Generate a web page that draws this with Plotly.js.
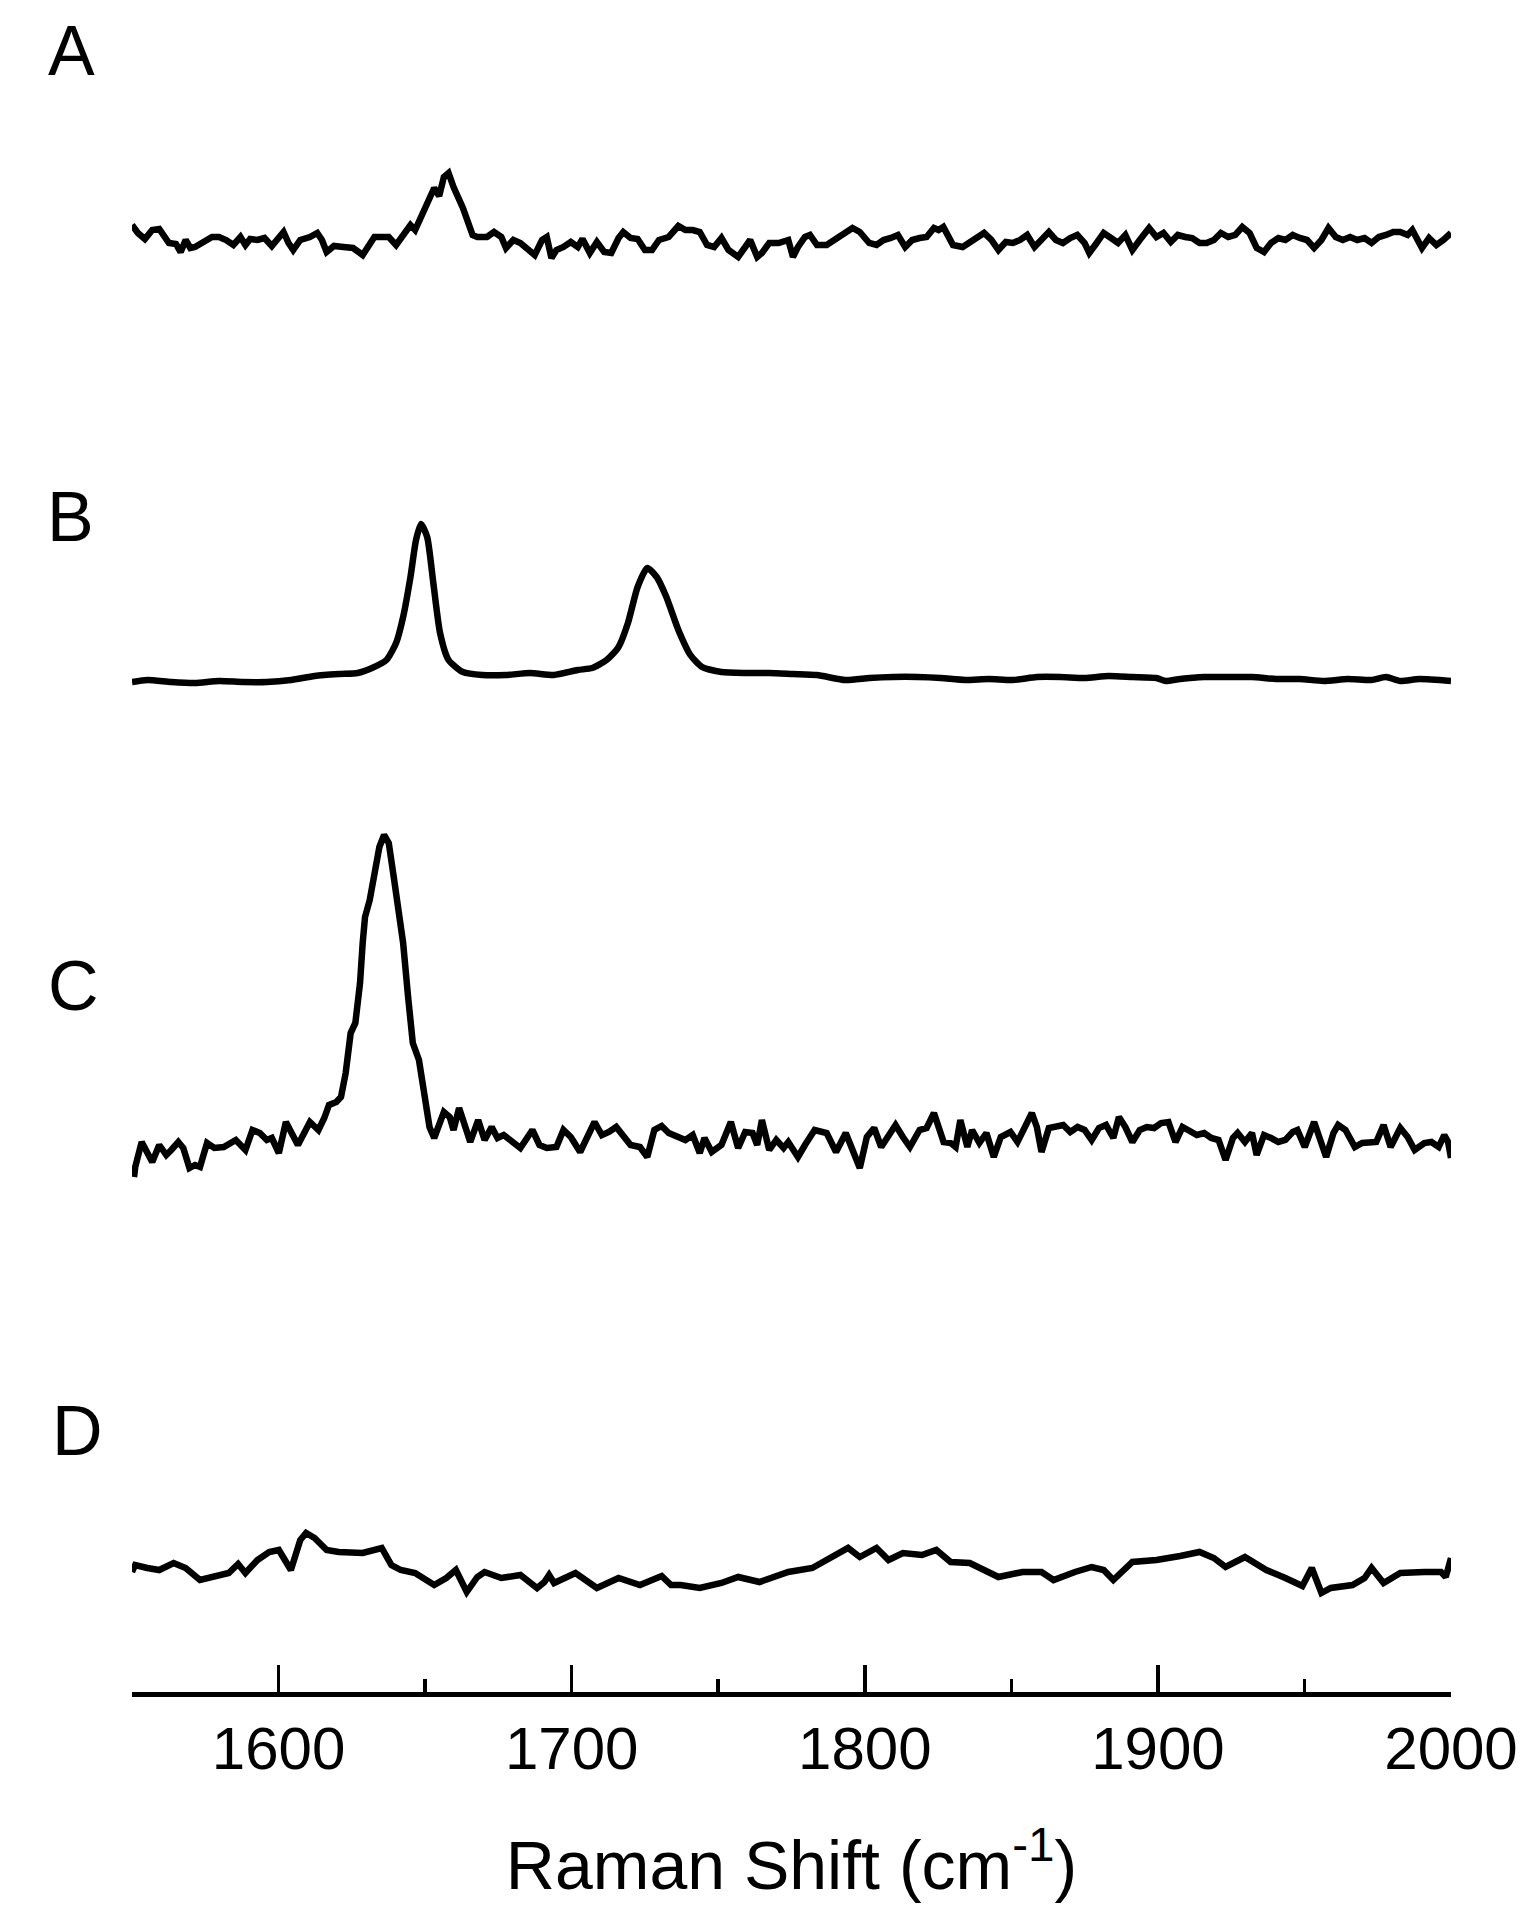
<!DOCTYPE html>
<html>
<head>
<meta charset="utf-8">
<script src="https://cdn.plot.ly/plotly-3.0.1.min.js"></script>
<style>
  body { margin: 0; background: #ffffff; }
  #ramanPlot { width: 1536px; height: 1920px; }
</style>
</head>
<body>
<div id="ramanPlot"></div>
<script>
// ===================== Raman spectra A-D =====================
// Raman shift (cm-1) and intensity (arb. units, ~0 at each trace's baseline)
const shiftA = [
  1550.0,1552.0,1554.4,1556.9,1559.3,1560.9,1562.6,1565.0,1566.6,1568.3,
  1569.9,1571.5,1574.0,1577.3,1579.7,1582.1,1584.6,1587.0,1588.7,1590.3,
  1592.8,1595.2,1597.7,1600.1,1601.7,1603.4,1605.0,1607.4,1610.7,1613.2,
  1614.8,1616.4,1618.9,1622.1,1625.4,1628.7,1630.3,1632.7,1635.2,1637.6,
  1640.1,1642.5,1645.0,1646.6,1648.2,1650.7,1653.1,1654.8,1656.4,1658.0,
  1659.7,1662.9,1666.2,1667.8,1671.1,1673.5,1676.0,1677.6,1680.1,1682.5,
  1685.0,1687.4,1689.9,1691.5,1693.1,1694.8,1697.2,1699.7,1702.1,1703.7,
  1706.2,1708.6,1711.1,1713.5,1716.0,1717.6,1720.1,1722.5,1725.0,1727.4,
  1729.8,1733.1,1736.4,1738.8,1741.3,1743.7,1746.2,1748.6,1751.1,1753.5,
  1756.8,1759.2,1760.9,1763.3,1764.9,1767.4,1770.6,1773.9,1775.5,1777.2,
  1779.6,1781.3,1783.7,1787.0,1789.4,1791.9,1794.3,
  1795.8,1798.3,1801.5,1804.0,1806.4,1808.9,1811.3,1813.8,1816.2,1818.7,
  1821.1,1823.6,1825.2,1826.8,1828.5,1830.1,1833.4,1835.8,1838.3,1840.7,
  1843.2,1845.6,1848.1,1850.5,1853.0,1855.4,1857.9,1860.3,1862.8,1865.2,
  1867.6,1870.1,1872.5,1875.0,1876.6,1879.1,1881.5,1884.0,1886.4,1888.9,
  1891.3,1893.8,1897.0,1899.5,1901.9,1904.4,1906.8,1909.3,1911.7,1914.2,
  1916.6,1919.1,1921.5,1924.0,1926.4,1928.8,1931.3,1933.7,1936.2,1938.6,
  1941.1,1943.5,1946.0,1948.4,1950.9,1953.3,1955.8,1958.2,1960.7,1963.1,
  1965.6,1968.0,1970.5,1972.9,1975.4,1977.8,1980.3,1982.7,1985.2,1986.8,
  1988.4,1990.1,1992.5,1995.0,1997.4,2000.0
];
const intensityA = [
  15,7,1,10,11,3,-3,-4,-12,0,
  -8,-7,-2,3,3,0,-5,3,-5,1,
  0,2,-6,2,8,-3,-10,0,3,7,
  0,-12,-6,-7,-8,-15,-8,3,3,3,
  -5,5,15,10,20,38,52,44,63,67,
  53,32,5,3,3,8,3,-8,0,-3,
  -10,-15,0,3,-18,-10,-7,-2,-7,1,
  -13,-2,-12,-13,2,8,2,1,-10,-10,
  0,3,14,10,10,8,-5,-7,2,-10,
  -17,-7,0,-17,-13,-3,-3,0,-17,-7,
  3,5,-5,-5,0,5,10,
  12,8,-3,-5,0,2,5,-7,0,2,
  3,12,10,13,3,-5,-7,-2,2,7,
  0,-10,-2,-3,0,5,-7,0,8,0,
  -3,2,5,-3,-13,-3,7,2,-3,5,
  -10,0,12,3,7,-2,5,3,2,-3,
  -3,0,7,3,5,13,7,-8,-12,-3,
  2,0,5,2,0,-8,0,12,3,0,
  3,0,2,-3,3,5,8,8,5,10,
  0,-8,2,-5,0,7
];

const shiftB = [
  1550.0,1555.2,1563.4,1571.5,1579.7,1587.9,1596.0,1604.2,1612.3,1620.5,
  1627.0,1631.9,1636.8,1640.1,1642.5,1645.0,1646.9,1648.6,1650.7,1652.8,
  1655.1,1658.0,1662.9,1669.5,1677.6,1685.8,1693.9,1702.1,1707.0,1711.9,
  1716.0,1719.2,1722.5,1725.8,1729.0,1732.3,1736.4,1740.5,1744.5,1751.1,
  1759.2,1767.4,1775.5,1783.7,1793.4,1801.6,1809.7,1817.9,1826.0,1834.2,
  1842.4,1850.5,1858.7,1866.8,1875.0,1883.2,1891.3,1899.5,1902.7,1907.6,
  1915.8,1924.0,1932.1,1940.3,1948.4,1956.6,1964.8,1972.9,1977.8,1982.7,
  1989.2,2000.0
];
const intensityB = [
  -2,0,-2,-3,-1,-2,-2,0,4,6,
  7,12,20,37,63,103,140,156,143,97,
  47,20,8,5,5,7,5,10,12,20,
  33,57,93,112,103,83,50,25,13,8,
  7,7,6,5,0,2,3,3,2,0,
  1,0,3,3,2,4,3,2,-1,1,
  3,3,3,1,1,-1,1,0,3,-1,
  1,-1
];

const shiftC = [
  1550.7,1551.1,1553.3,1555.2,1556.9,1559.3,1561.7,1563.4,1565.8,1567.5,
  1569.6,1571.5,1573.2,1575.6,1578.1,1581.3,1585.4,1588.7,1591.1,1593.6,
  1596.0,1597.7,1600.1,1602.5,1605.0,1606.6,1610.7,1613.6,1615.6,1617.2,
  1619.7,1621.3,1622.9,1624.6,1626.2,1627.8,1628.7,1629.5,1631.1,1632.7,
  1634.4,1636.0,1637.6,1639.3,1640.9,1642.5,1644.2,1645.8,1647.9,1649.9,
  1651.5,1653.1,1654.8,1656.4,1658.4,1659.7,1661.6,1663.7,1665.4,1668.1,
  1670.3,1672.7,1674.7,1676.8,1679.3,1682.5,1686.6,1689.0,1691.5,1694.8,
  1697.2,1699.7,1702.9,1705.4,1707.8,1710.3,1712.7,1715.2,1717.6,1720.1,
  1723.3,1725.8,1728.2,1730.7,1733.1,1736.4,1738.8,1741.3,1743.7,1745.3,
  1747.8,1751.1,1754.3,1756.8,1759.2,1761.7,1763.3,1764.9,1767.4,1769.8,
  1772.3,1773.9,1777.2,1779.6,1782.9,1787.0,1790.2,1793.5,
  1798.3,1800.7,1803.2,1805.6,1808.1,1810.5,1813.0,1815.4,1818.7,1821.1,
  1823.6,1825.2,1826.9,1829.3,1831.0,1832.6,1835.0,1836.6,1839.1,1841.5,
  1844.0,1846.4,1849.7,1852.1,1854.6,1857.0,1858.7,1860.3,1862.8,1865.2,
  1867.7,1870.1,1872.6,1875.0,1877.4,1879.9,1882.3,1884.8,1886.7,1888.9,
  1891.3,1893.8,1896.2,1898.7,1901.1,1903.6,1906.0,1908.4,1910.9,1913.3,
  1915.8,1918.2,1920.7,1923.1,1925.6,1927.2,1929.7,1932.1,1933.7,1936.2,
  1938.6,1941.1,1943.5,1946.0,1947.6,1950.1,1953.3,1955.8,1957.4,1959.9,
  1961.5,1964.0,1967.2,1969.7,1972.9,1974.5,1977.0,1979.4,1982.7,1985.2,
  1987.6,1990.9,1993.3,1995.8,1997.7,1999.0,2000.0
];
const intensityC = [
  -27,-17,8,-3,-12,5,-5,0,8,2,
  -18,-15,-17,7,2,3,10,0,20,17,
  10,12,-3,28,13,5,28,20,32,45,
  48,53,77,117,127,167,207,233,250,277,
  303,315,307,273,237,207,153,107,90,50,
  23,12,28,38,33,20,42,23,8,30,
  10,23,12,15,10,2,20,5,2,3,
  20,13,-2,15,28,15,18,23,15,5,
  3,-7,20,24,17,12,10,15,-3,12,
  -2,5,28,2,18,17,5,30,0,10,
  2,8,-7,5,20,17,-2,17,
  -18,13,22,3,15,25,13,3,20,22,
  37,23,8,7,3,30,3,20,7,17,
  -7,13,18,8,23,37,23,-2,22,23,
  25,18,23,20,10,22,25,12,33,23,
  8,20,23,22,27,28,8,23,18,15,
  17,12,10,-10,12,17,8,17,-5,15,
  12,8,10,18,20,3,28,7,-7,17,
  25,20,3,7,7,8,25,3,22,13,
  0,7,8,3,15,8,-8
];

const shiftD = [
  1550.0,1551.1,1555.2,1559.3,1564.2,1568.3,1573.2,1578.1,1583.0,1586.2,
  1588.7,1592.8,1596.8,1600.1,1604.2,1607.4,1609.4,1612.3,1616.4,1620.5,
  1628.7,1635.2,1638.5,1641.7,1646.6,1653.1,1657.2,1660.5,1664.2,1667.8,
  1670.3,1676.0,1682.5,1688.2,1690.7,1692.3,1694.0,1701.3,1705.4,1708.6,
  1716.0,1723.3,1730.7,1733.9,1737.2,1743.7,1751.1,1756.8,1764.1,1773.9,
  1782.1,1788.6,1794.3,
  1798.3,1804.0,1808.1,1813.0,1819.5,1824.4,1829.3,1835.8,1845.6,1853.8,
  1860.3,1864.4,1871.7,1877.4,1881.5,1884.8,1891.3,1899.5,1907.6,1914.2,
  1919.1,1923.1,1929.7,1937.0,1943.5,1949.3,1952.5,1955.8,1959.0,1966.4,
  1970.5,1972.9,1977.0,1982.7,1990.9,1996.6,1998.2,2000.0
];
const intensityD = [
  8,15,12,10,17,12,0,3,7,16,
  7,20,28,30,10,40,47,42,30,28,
  27,32,15,10,7,-5,2,10,-12,3,
  8,2,5,-8,-2,5,-3,7,-2,-8,
  2,-5,4,-5,-5,-8,-3,3,-2,8,
  12,22,32,
  23,32,20,27,25,30,18,17,3,8,
  8,0,8,13,10,0,18,20,24,28,
  22,13,23,10,2,-6,12,-13,-8,-5,
  2,12,-3,7,8,8,3,22
];

const spectrumLabels = ["A", "B", "C", "D"];
const tickValues = [1600, 1700, 1800, 1900, 2000];

// ===================== layout helpers =====================
const figW = 1536, figH = 1920;
const marginL = 132, marginR = 85, marginT = 20, marginB = 228;
const plotH = figH - marginT - marginB;
// pixel row of each trace's baseline, used to stack the spectra
const baseRows = [240, 680, 1150, 1580];
const labelPos = [[71, 51], [70, 517], [73, 986], [77, 1431]];
const plotW = figW - marginL - marginR;

function stackRange(row) {
  // one intensity unit = one pixel; zero sits on the given row
  return [row - (figH - marginB), row - marginT];
}

const series = [
  [shiftA, intensityA, "linear"],
  [shiftB, intensityB, "spline"],
  [shiftC, intensityC, "linear"],
  [shiftD, intensityD, "linear"]
];

const traces = series.map((s, i) => ({
  x: s[0],
  y: s[1],
  type: "scatter",
  mode: "lines",
  name: spectrumLabels[i],
  yaxis: i === 0 ? "y" : "y" + (i + 1),
  line: { color: "#000000", width: 6.5, shape: s[2], smoothing: 0.6 },
  hoverinfo: "skip"
}));

const hiddenY = (i) => ({
  range: stackRange(baseRows[i]),
  visible: false,
  fixedrange: true,
  overlaying: i === 0 ? undefined : "y"
});

const layout = {
  width: figW,
  height: figH,
  margin: { l: marginL, r: marginR, t: marginT, b: marginB },
  paper_bgcolor: "#ffffff",
  plot_bgcolor: "#ffffff",
  showlegend: false,
  font: { family: "Liberation Sans, Arial, sans-serif", color: "#000000" },
  xaxis: {
    range: [1550, 2000],
    tickvals: tickValues,
    ticks: "inside",
    ticklen: 27,
    tickwidth: 3.5,
    tickcolor: "#000000",
    showline: true,
    linewidth: 5,
    linecolor: "#000000",
    showgrid: false,
    zeroline: false,
    ticklabelstandoff: 0,
    tickfont: { size: 60, color: "#000000" },
    minor: { dtick: 50, tick0: 1550, ticks: "inside", ticklen: 13, tickwidth: 3.5, tickcolor: "#000000" },
    title: {
      text: "Raman Shift (cm<sup>-1</sup>)",
      font: { size: 68, color: "#000000" },
      standoff: 62
    }
  },
  yaxis: hiddenY(0),
  yaxis2: hiddenY(1),
  yaxis3: hiddenY(2),
  yaxis4: hiddenY(3),
  annotations: spectrumLabels.map((lab, i) => ({
    text: lab,
    xref: "paper",
    yref: "paper",
    x: (labelPos[i][0] - marginL) / plotW,
    y: (figH - marginB - labelPos[i][1]) / plotH,
    xanchor: "center",
    yanchor: "middle",
    showarrow: false,
    font: { size: 70, color: "#000000" }
  }))
};

Plotly.newPlot("ramanPlot", traces, layout, { staticPlot: true, displayModeBar: false });
</script>
</body>
</html>
